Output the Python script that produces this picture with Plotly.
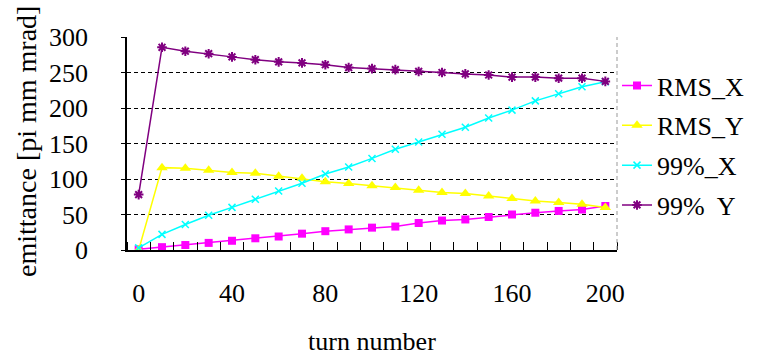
import plotly.graph_objects as go

turns = [0, 10, 20, 30, 40, 50, 60, 70, 80, 90, 100, 110, 120, 130, 140, 150, 160, 170, 180, 190, 200]
rms_x = [1, 4, 7, 10, 13, 16.5, 19, 23, 26.5, 29, 31.5, 33, 38, 41.5, 43, 46.5, 50, 52.5, 55, 57, 62]
rms_y = [0, 116, 115, 112.5, 109, 108, 104, 101, 96, 93.5, 90.5, 88, 84, 81, 79.5, 76, 72.5, 69, 67, 64.5, 60]
p99_x = [3, 22, 36, 49, 60, 71.5, 83, 94, 107, 117, 129, 142, 152, 163, 173, 186, 197, 210, 220, 230, 237]
p99_y = [78, 285.5, 280, 276.5, 272, 268, 265, 263.5, 261, 257, 255.5, 254, 251.5, 250, 248, 246.5, 243.5, 243.5, 242, 242, 237.5]

x_tick_vals = [0, 40, 80, 120, 160, 200]
y_tick_vals = [0, 50, 100, 150, 200, 250, 300]

FONT = "Liberation Serif, Times New Roman, serif"
FS = 26

fig = go.Figure()
fig.add_trace(go.Scatter(x=turns, y=rms_x, name="RMS_X", mode="lines+markers", legendgroup="a",
                         line=dict(color="#FF00FF", width=1.5),
                         marker=dict(symbol="square", size=8, color="#FF00FF")))
fig.add_trace(go.Scatter(x=turns, y=rms_y, name="RMS_Y", mode="lines+markers", legendgroup="b",
                         line=dict(color="#FFFF00", width=1.5),
                         marker=dict(symbol="triangle-up", size=10, color="#FFFF00")))
fig.add_trace(go.Scatter(x=turns, y=p99_x, name="99%_X", mode="lines+markers", legendgroup="c",
                         line=dict(color="#00FFFF", width=1.5),
                         marker=dict(symbol="x-thin-open", size=7, color="#00FFFF",
                                     line=dict(color="#00FFFF", width=1.5))))
fig.add_trace(go.Scatter(x=turns, y=p99_y, name="99%  Y", mode="lines+markers", legendgroup="d",
                         line=dict(color="#800080", width=1.5),
                         marker=dict(symbol="asterisk-open", size=8, color="#800080",
                                     line=dict(color="#800080", width=2))))

fig.update_layout(
    width=761, height=359,
    margin=dict(l=127, r=144, t=37, b=109),
    paper_bgcolor="white", plot_bgcolor="white",
    font=dict(family=FONT, size=FS, color="black"),
    showlegend=True,
    legend=dict(x=1.0, xanchor="left", y=0.49, yanchor="middle",
                font=dict(family=FONT, size=FS), tracegroupgap=3,
                bgcolor="rgba(0,0,0,0)", itemwidth=30),
    xaxis=dict(range=[-5, 205], tickvals=x_tick_vals, ticks="", showgrid=False,
               zeroline=False, showline=True, linecolor="black", linewidth=1.5,
               ticklabelstandoff=19,
               tickfont=dict(family=FONT, size=FS),
               minor=dict(tick0=-5, dtick=10, ticks="inside", ticklen=8,
                          tickcolor="black", tickwidth=1, showgrid=False)),
    yaxis=dict(range=[0, 300], tickvals=y_tick_vals, ticks="outside", ticklen=4,
               tickcolor="black", showgrid=True, gridcolor="black", griddash="4px,3px",
               gridwidth=1, zeroline=False, showline=True, linecolor="black",
               linewidth=1.5, ticklabelstandoff=28,
               tickfont=dict(family=FONT, size=FS)),
    shapes=[dict(type="line", xref="paper", yref="paper", x0=1, x1=1, y0=0, y1=1,
                 line=dict(color="#999999", width=1, dash="4px,3px"))],
    annotations=[
        dict(text="turn number", xref="paper", yref="paper", x=0.5, y=-0.43,
             xanchor="center", yanchor="middle", showarrow=False,
             font=dict(family=FONT, size=26)),
        dict(text="emittance [pi mm mrad]", xref="paper", yref="paper", x=-0.205, y=0.51,
             xanchor="center", yanchor="middle", showarrow=False, textangle=-90,
             font=dict(family=FONT, size=28)),
    ],
)

fig.write_html("out.html")
